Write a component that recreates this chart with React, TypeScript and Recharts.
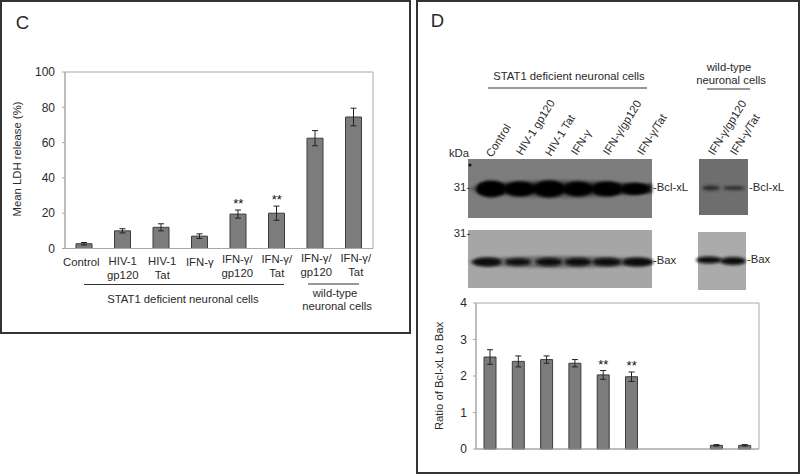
import React from "react";
import { ComposedChart, Bar, Line, XAxis, YAxis, CartesianGrid, ErrorBar } from "recharts";

const ldhLabels = ["Control", "HIV-1\ngp120", "HIV-1\nTat", "IFN-γ", "IFN-γ/\ngp120", "IFN-γ/\nTat", "IFN-γ/\ngp120", "IFN-γ/\nTat"];
const ldhMeans = [2.7, 10, 12, 7, 19.5, 20, 62.5, 74.5];
const ldhErrors = [0.7, 1.2, 2, 1.3, 2.3, 4, 4.3, 5];
const ldhStars = [null, null, null, null, 21.8, 24, null, null];

const ratioLabels = ["Control", "HIV-1 gp120", "HIV-1 Tat", "IFN-γ", "IFN-γ/gp120", "IFN-γ/Tat", "", " ", "IFN-γ/gp120", "IFN-γ/Tat"];
const ratioMeans = [2.52, 2.4, 2.45, 2.35, 2.03, 1.98, null, null, 0.1, 0.1];
const ratioErrors = [0.2, 0.15, 0.1, 0.1, 0.12, 0.13, null, null, 0.02, 0.02];
const ratioStars = [null, null, null, null, 2.15, 2.11, null, null, null, null];

const ldhData = ldhLabels.map((label, i) => ({ label, mean: ldhMeans[i], err: ldhErrors[i], star: ldhStars[i] }));
const ratioData = ratioLabels.map((label, i) => ({ label, mean: ratioMeans[i], err: ratioErrors[i], star: ratioStars[i] }));

const FONT = "'Liberation Sans', Arial, sans-serif";
const INK = "#2a2a2a";
const TEXT = 11.3;

const Stars = (props: any) => {
  if (props.value == null) return null;
  return (
    <text x={props.x} y={props.y - 2} textAnchor="middle" fontFamily={FONT} fontSize={13} fill="#111">
      **
    </text>
  );
};

const LdhTick = (props: any) => {
  const lines = String(props.payload.value).split("\n");
  const tops = [266, 265, 265, 266, 263, 263, 262, 262];
  const shift = [-3, 0, 1, 0, -1, 0, 1, 2];
  return (
    <text textAnchor="middle" fontFamily={FONT} fontSize={TEXT} fill={INK}>
      {lines.map((l, i) => (
        <tspan key={i} x={props.x + shift[props.index]} y={tops[props.index] + i * 13.5}>{l}</tspan>
      ))}
    </text>
  );
};

const Label = ({ x, y, size = TEXT, rotate, anchor = "middle", children }: any) => (
  <text
    x={x}
    y={y}
    fontFamily={FONT}
    fontSize={size}
    fill={INK}
    textAnchor={anchor}
    transform={rotate ? `rotate(${rotate} ${x} ${y})` : undefined}
  >
    {children}
  </text>
);

const Band = ({ x, y, w, h, c }: any) => <ellipse cx={x} cy={y} rx={w / 2} ry={h / 2} fill={c} filter="url(#soft)" />;

export default function App() {
  return (
    <div style={{ position: "absolute", left: 0, top: 0, width: 800, height: 475, background: "#fff", overflow: "hidden" }}>
      <div style={{ position: "absolute", left: 0, top: 0 }}>
        <ComposedChart width={410} height={333} data={ldhData} barSize={16} margin={{ top: 72, right: 37, left: 0, bottom: 0 }}>
          <CartesianGrid horizontalPoints={[72, 248.5]} verticalPoints={[65, 373]} stroke="#a8a8a8" fill="none" />
          <XAxis dataKey="label" height={84.5} tickLine={false} axisLine={{ stroke: "#a8a8a8" }} interval={0} tick={<LdhTick />} />
          <YAxis width={65} domain={[0, 100]} ticks={[0, 20, 40, 60, 80, 100]} tickSize={3} tickMargin={7} tickLine={{ stroke: "#a8a8a8" }} axisLine={{ stroke: "#a8a8a8" }} tick={{ fontFamily: FONT, fontSize: 12, fill: INK }} />
          <Bar dataKey="mean" fill="#7c7c7c" stroke="#3c3c3c" strokeWidth={1} isAnimationActive={false}>
            <ErrorBar dataKey="err" width={3} stroke="#222" strokeWidth={1} isAnimationActive={false} />
          </Bar>
          <Line dataKey="star" stroke="none" dot={false} activeDot={false} label={<Stars />} isAnimationActive={false} />
        </ComposedChart>
      </div>

      <div style={{ position: "absolute", left: 417, top: 290 }}>
        <ComposedChart width={382} height={180} data={ratioData} barSize={12} margin={{ top: 13, right: 40, left: 0, bottom: 0 }}>
          <CartesianGrid horizontalPoints={[13, 159]} verticalPoints={[59, 342]} stroke="#a8a8a8" fill="none" />
          <XAxis dataKey="label" height={21} tick={false} tickLine={false} axisLine={{ stroke: "#a8a8a8" }} interval={0} />
          <YAxis width={59} domain={[0, 4]} ticks={[0, 1, 2, 3, 4]} tickSize={3} tickMargin={6} tickLine={{ stroke: "#a8a8a8" }} axisLine={{ stroke: "#a8a8a8" }} tick={{ fontFamily: FONT, fontSize: 12, fill: INK }} />
          <Bar dataKey="mean" fill="#7c7c7c" stroke="#3c3c3c" strokeWidth={1} isAnimationActive={false}>
            <ErrorBar dataKey="err" width={3} stroke="#222" strokeWidth={1} isAnimationActive={false} />
          </Bar>
          <Line dataKey="star" stroke="none" dot={false} activeDot={false} label={<Stars />} isAnimationActive={false} />
        </ComposedChart>
      </div>

      <svg width={800} height={475} style={{ position: "absolute", left: 0, top: 0, pointerEvents: "none" }}>
        <defs>
          <filter id="soft" x="-30%" y="-80%" width="160%" height="260%">
            <feGaussianBlur stdDeviation="1.4" />
          </filter>
        </defs>

        {/* panel frames */}
        <rect x={1} y={1} width={409} height={332} fill="none" stroke="#333" strokeWidth={2} />
        <rect x={417} y={1} width={382} height={472} fill="none" stroke="#333" strokeWidth={2} />
        <Label x={22.5} y={29} size={18.5}>C</Label>
        <Label x={437.5} y={27} size={18.5}>D</Label>

        {/* panel C notes */}
        <Label x={21} y={159} rotate={-90}>Mean LDH release (%)</Label>
        <line x1={84} x2={284} y1={284.5} y2={284.5} stroke="#333" strokeWidth={1.2} />
        <line x1={308} x2={359} y1={284} y2={284} stroke="#333" strokeWidth={1.2} />
        <Label x={183} y={303}>STAT1 deficient neuronal cells</Label>
        <Label x={335} y={297}>wild-type</Label>
        <Label x={337} y={310}>neuronal cells</Label>

        {/* panel D headers */}
        <Label x={569} y={80}>STAT1 deficient neuronal cells</Label>
        <line x1={488} x2={647} y1={88} y2={88} stroke="#333" strokeWidth={1.2} />
        <Label x={729} y={71}>wild-type</Label>
        <Label x={731} y={84}>neuronal cells</Label>
        <line x1={707} x2={750} y1={89} y2={89} stroke="#333" strokeWidth={1} />
        <Label x={459} y={157}>kDa</Label>

        {ratioLabels.slice(0, 6).map((t, i) => (
          <Label key={i} x={[492, 522, 551, 577, 609, 643][i]} y={[158, 156, 157, 156, 156, 156][i]} anchor="start" rotate={-58}>{t}</Label>
        ))}
        {ratioLabels.slice(8).map((t, i) => (
          <Label key={i} x={[714, 736][i]} y={[156, 156][i]} anchor="start" rotate={-58}>{t}</Label>
        ))}

        {/* blots */}
        <rect x={468} y={159} width={184} height={59} fill="#7d7d7d" />
        <Band x={560} y={189} w={180} h={18} c="#565656" />
        <rect x={480} y={184} width={172} height={9} fill="#1a1a1a" filter="url(#soft)" />
        {[[491, 30, 17], [520, 31, 15], [549, 32, 17], [578, 30, 15], [607, 31, 15], [635, 28, 12]].map((b, i) => (
          <Band key={i} x={b[0]} y={189} w={b[1]} h={b[2]} c="#050505" />
        ))}
        <circle cx={470} cy={165} r={1.5} fill="#111" />
        <rect x={468} y={230} width={184} height={58} fill="#a6a6a6" />
        <Band x={560} y={262} w={182} h={12} c="#6a6a6a" />
        {[[487, 29, 9], [518, 26, 7], [549, 27, 8], [578, 27, 8], [607, 29, 8], [638, 31, 9]].map((b, i) => (
          <Band key={i} x={b[0]} y={262} w={b[1]} h={b[2]} c="#0a0a0a" />
        ))}
        <rect x={699} y={159} width={49} height={56} fill="#6e6e6e" />
        <Band x={711} y={188} w={18} h={5} c="#2b2b2b" />
        <Band x={734} y={188} w={22} h={4} c="#2b2b2b" />
        <rect x={698} y={232} width={48} height={58} fill="#ababab" />
        <Band x={709} y={260} w={26} h={7} c="#0a0a0a" />
        <Band x={733} y={261} w={26} h={8} c="#0a0a0a" />

        {/* blot labels */}
        <Label x={462} y={191}>31-</Label>
        <Label x={462} y={237}>31-</Label>
        <Label x={653} y={191} anchor="start">-Bcl-xL</Label>
        <Label x={653} y={264} anchor="start">-Bax</Label>
        <Label x={749} y={191} anchor="start">-Bcl-xL</Label>
        <Label x={747} y={263} anchor="start">-Bax</Label>

        <Label x={443} y={376} rotate={-90}>Ratio of Bcl-xL to Bax</Label>
      </svg>
    </div>
  );
}
